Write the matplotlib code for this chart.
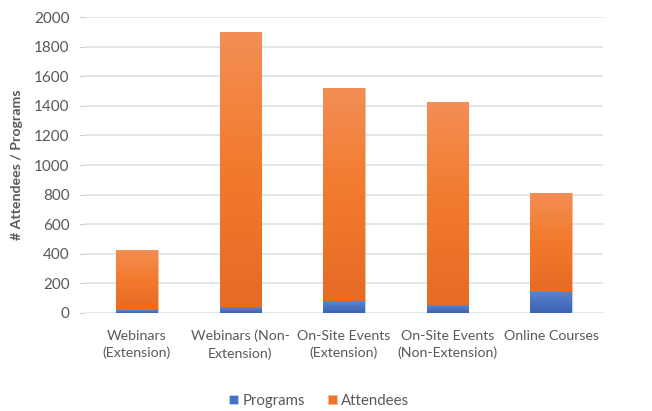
import matplotlib
matplotlib.use("Agg")
import matplotlib.pyplot as plt
import numpy as np
from matplotlib.colors import LinearSegmentedColormap

categories = ["Webinars\n(Extension)", "Webinars (Non-\nExtension)", "On-Site Events\n(Extension)",
              "On-Site Events\n(Non-Extension)", "Online Courses"]
programs = [20, 38, 78, 51, 144]
attendees = [406, 1861, 1444, 1377, 670]
yticks = [0, 200, 400, 600, 800, 1000, 1200, 1400, 1600, 1800, 2000]

plt.rcParams['font.family'] = ['Lato', 'DejaVu Sans']
text_color = '#595959'

fig = plt.figure(figsize=(6.52, 4.11), dpi=100)
ax = fig.add_axes([85/652, 1-313/411, (603-85)/652, (313-17)/411])

x = np.arange(len(categories))
w = 0.4
bars_p = ax.bar(x, programs, w, color='#4472C4', edgecolor='#C9D6EE', linewidth=0.6,
                label='Programs', zorder=3)
bars_a = ax.bar(x, attendees, w, bottom=programs, color='#EE7530', edgecolor='#F6BE9A',
                linewidth=0.6, label='Attendees', zorder=3)

cmap_o = LinearSegmentedColormap.from_list('o', ['#E76A25', '#F27A2C', '#F38E55'])
cmap_b = LinearSegmentedColormap.from_list('b', ['#3A64B4', '#4A72C0', '#5F84CB'])
grad = np.linspace(0, 1, 256).reshape(-1, 1)
for bars, cmap in ((bars_p, cmap_b), (bars_a, cmap_o)):
    for b in bars:
        x0, y0 = b.get_x(), b.get_y()
        im = ax.imshow(grad, cmap=cmap, origin='lower', aspect='auto',
                       extent=[x0, x0 + b.get_width(), y0, y0 + b.get_height()], zorder=3.5)
        im.set_clip_path(b)

ax.set_xlim(-0.5, len(categories) - 0.5)
ax.set_ylim(0, 2000)
ax.set_yticks(yticks)
ax.yaxis.grid(True, color='#DCE1E7', linewidth=1.2, zorder=0)
for s in ax.spines.values():
    s.set_visible(False)
ax.tick_params(axis='y', length=4, color='#D0D0D0', labelcolor=text_color, labelsize=11, pad=7)
ax.tick_params(axis='x', length=0, labelcolor=text_color, labelsize=10.2, pad=12)
ax.set_xticks(x)
ax.set_xticklabels(categories, linespacing=1.5)
ax.set_ylabel('# Attendees / Programs', fontsize=10.2, fontweight='bold', color=text_color, labelpad=8)

fig.legend(loc='lower center', ncol=2, frameon=False, bbox_to_anchor=(0.49, -0.025),
           fontsize=10.8, labelcolor=text_color, handlelength=0.6, handleheight=0.6,
           handletextpad=0.3, columnspacing=1.5)

fig.savefig('out.png', dpi=100)
